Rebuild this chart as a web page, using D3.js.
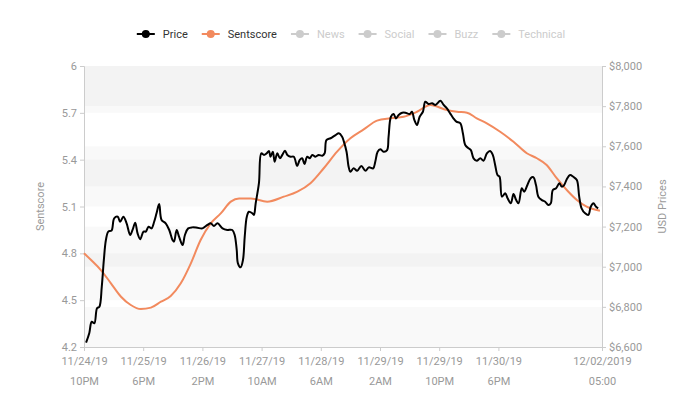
<!DOCTYPE html>
<html>
<head>
<meta charset="utf-8">
<script src="https://cdn.jsdelivr.net/npm/d3@7"></script>
<style>
    body { margin: 0; background: #fff; font-family: Roboto, "Noto Sans", sans-serif; }
    .axis path, .axis line { stroke: #ccc; }
    .axis text { fill: #999; font-size: 11px; font-family: Roboto, sans-serif; }
    .title { fill: #9a9a9a; font-size: 11px; }
</style>
</head>
<body>
<div id="chart"></div>
<script>
// hours after 11/24/19 10PM, value
var priceData = [
    [0.7, 6622], [1.8, 6670], [2.6, 6726], [3.5, 6718], [4.4, 6793], [5.2, 6801],
    [6.0, 6900], [6.7, 7033], [7.4, 7133], [8.2, 7175], [9.3, 7180], [10.2, 7241],
    [11.4, 7249], [12.2, 7224], [13.3, 7249], [14.4, 7216], [15.6, 7158], [16.4, 7183],
    [17.3, 7219], [18.1, 7166], [19.0, 7137], [20.1, 7175], [20.9, 7175], [21.8, 7199],
    [22.8, 7191], [23.7, 7224], [24.5, 7266], [25.4, 7312], [26.2, 7233], [27.6, 7216],
    [28.8, 7183], [29.9, 7133], [30.4, 7125], [31.3, 7183], [32.1, 7150], [33.3, 7108],
    [34.1, 7158], [35.2, 7191], [36.6, 7196], [38.3, 7194], [40.0, 7191], [41.7, 7208],
    [42.8, 7216], [43.9, 7203], [45.1, 7216], [46.8, 7191], [48.4, 7183], [50.1, 7183],
    [50.9, 7158], [51.6, 7083], [52.0, 7017], [52.9, 6997], [53.7, 7033], [54.3, 7150],
    [55.0, 7249], [55.7, 7274], [56.9, 7266], [57.4, 7258], [58.0, 7316], [59.1, 7416],
    [59.9, 7565], [60.8, 7557], [61.7, 7565], [62.5, 7577], [63.0, 7548], [63.8, 7573],
    [64.4, 7523], [65.3, 7565], [66.2, 7540], [67.0, 7557], [67.9, 7578], [68.7, 7557],
    [69.8, 7548], [70.9, 7548], [72.0, 7502], [72.9, 7532], [73.7, 7540], [74.5, 7512],
    [75.4, 7548], [76.3, 7540], [77.1, 7557], [78.2, 7548], [79.3, 7557], [80.5, 7553],
    [81.3, 7565], [81.9, 7631], [83.3, 7640], [85.0, 7656], [86.1, 7665], [87.2, 7648],
    [87.8, 7623], [88.7, 7573], [89.4, 7498], [90.0, 7473], [91.1, 7490], [92.3, 7478],
    [93.7, 7502], [95.1, 7478], [96.2, 7495], [97.7, 7490], [98.4, 7523], [99.2, 7573],
    [100.1, 7585], [101.2, 7573], [102.4, 7581], [102.9, 7648], [103.7, 7747], [104.6, 7761],
    [105.4, 7739], [106.3, 7756], [107.5, 7767], [108.6, 7767], [110.0, 7761], [110.8, 7772],
    [111.6, 7731], [112.5, 7706], [113.4, 7747], [114.5, 7772], [115.3, 7822], [116.4, 7811],
    [117.6, 7814], [118.7, 7806], [120.4, 7827], [121.5, 7806], [122.6, 7789], [123.7, 7764],
    [124.8, 7739], [125.8, 7723], [127.1, 7715], [128.0, 7665], [128.8, 7606], [129.9, 7590],
    [130.7, 7581], [131.6, 7540], [132.7, 7528], [133.9, 7540], [135.0, 7528], [136.1, 7565],
    [137.2, 7577], [138.1, 7557], [138.9, 7507], [139.7, 7457], [140.4, 7448], [141.2, 7349],
    [142.3, 7366], [143.1, 7341], [144.2, 7316], [145.1, 7362], [146.0, 7332], [146.8, 7316],
    [147.9, 7391], [148.7, 7374], [149.8, 7407], [150.9, 7441], [151.8, 7446], [152.7, 7407],
    [153.5, 7349], [154.7, 7332], [155.8, 7324], [156.9, 7307], [157.7, 7316], [158.4, 7382],
    [159.5, 7391], [160.6, 7416], [161.4, 7399], [162.2, 7407], [163.1, 7436], [164.2, 7457],
    [165.3, 7448], [166.5, 7432], [167.3, 7349], [168.1, 7291], [169.3, 7266], [170.4, 7258],
    [171.2, 7299], [172.1, 7316], [173.0, 7299], [173.7, 7291]
];

var sentscoreData = [
    [0, 4.80], [2.4, 4.757], [5.7, 4.693], [9.1, 4.608], [12.5, 4.522], [15.8, 4.469],
    [19.2, 4.443], [22.6, 4.452], [26.0, 4.49], [29.3, 4.527], [32.7, 4.608], [36.1, 4.736],
    [39.4, 4.885], [42.8, 4.992], [46.2, 5.056], [49.6, 5.131], [52.4, 5.152], [56.3, 5.152],
    [61.9, 5.131], [67.5, 5.163], [72.1, 5.195], [76.5, 5.249], [81.0, 5.345], [85.5, 5.451],
    [90.0, 5.537], [94.5, 5.594], [99.0, 5.65], [103.5, 5.665], [108.0, 5.675], [112.5, 5.707],
    [117.0, 5.75], [122.6, 5.718], [126.0, 5.707], [129.4, 5.701], [132.7, 5.665], [136.1, 5.633],
    [140.6, 5.579], [145.1, 5.515], [149.6, 5.441], [153.0, 5.409], [156.3, 5.366], [159.7, 5.281],
    [163.1, 5.206], [166.5, 5.142], [169.8, 5.099], [174.3, 5.073]
];

var sentTicks = [4.2, 4.5, 4.8, 5.1, 5.4, 5.7, 6];
var priceTicks = [6600, 6800, 7000, 7200, 7400, 7600, 7800, 8000];
var timeTickHours = [0, 20, 40, 60, 80, 100, 120, 140, 175];

var legendItems = [
    { name: 'Price', color: '#000', active: true },
    { name: 'Sentscore', color: '#f28a5e', active: true },
    { name: 'News', color: '#ccc', active: false },
    { name: 'Social', color: '#ccc', active: false },
    { name: 'Buzz', color: '#ccc', active: false },
    { name: 'Technical', color: '#ccc', active: false }
];

var width = 684,
    height = 397,
    margin = { left: 84, right: 82, top: 66, bottom: 50 };

var chartWidth = width - margin.left - margin.right;
var chartHeight = height - margin.top - margin.bottom;

var start = new Date(2019, 10, 24, 22, 0);
var hoursToDate = function (h) { return new Date(start.getTime() + h * 3600000); };

var xScale = d3.scaleTime()
    .domain([start, hoursToDate(175)])
    .range([0, chartWidth]);
var ySent = d3.scaleLinear().domain([4.2, 6]).range([chartHeight, 0]);
var yPrice = d3.scaleLinear().domain([6600, 8000]).range([chartHeight, 0]);

var svg = d3.select('#chart').append('svg')
    .attr('width', width)
    .attr('height', height);

var g = svg.append('g')
    .attr('transform', 'translate(' + margin.left + ',' + margin.top + ')');

// alternating bands from both axes, layered
var sentBands = d3.range(0, sentTicks.length - 1).filter(function (i) { return (sentTicks.length - 2 - i) % 2 === 0; });
g.selectAll('.band.sent')
    .data(sentBands)
    .enter().append('rect')
    .attr('class', 'band sent')
    .attr('x', 0)
    .attr('width', chartWidth)
    .attr('y', function (i) { return ySent(sentTicks[i + 1]); })
    .attr('height', function (i) { return ySent(sentTicks[i]) - ySent(sentTicks[i + 1]); })
    .attr('fill', 'rgba(0,0,0,0.022)');

var priceBands = d3.range(0, priceTicks.length - 1).filter(function (i) { return (priceTicks.length - 2 - i) % 2 === 0; });
g.selectAll('.band.price')
    .data(priceBands)
    .enter().append('rect')
    .attr('class', 'band price')
    .attr('x', 0)
    .attr('width', chartWidth)
    .attr('y', function (i) { return yPrice(priceTicks[i + 1]); })
    .attr('height', function (i) { return yPrice(priceTicks[i]) - yPrice(priceTicks[i + 1]); })
    .attr('fill', 'rgba(0,0,0,0.022)');

// axes
var xAxis = d3.axisBottom(xScale)
    .tickValues(timeTickHours.map(hoursToDate))
    .tickSize(4)
    .tickFormat('');
var xAxisG = g.append('g')
    .attr('class', 'axis x')
    .attr('transform', 'translate(0,' + chartHeight + ')')
    .call(xAxis);

var fmtDate = d3.timeFormat('%m/%d/%y'),
    fmtHour = d3.timeFormat('%-I%p'),
    fmtDateLast = d3.timeFormat('%m/%d/%Y'),
    fmtHourLast = d3.timeFormat('%H:%M');

xAxisG.selectAll('.tick').each(function (d, i) {
    var last = i === timeTickHours.length - 1;
    var t = d3.select(this).append('text')
        .attr('text-anchor', 'middle')
        .attr('fill', '#999');
    t.append('tspan').attr('x', 0).attr('y', 18).text(last ? fmtDateLast(d) : fmtDate(d));
    t.append('tspan').attr('x', 0).attr('y', 38).text(last ? fmtHourLast(d) : fmtHour(d));
});

g.append('g')
    .attr('class', 'axis y')
    .call(d3.axisLeft(ySent).tickValues(sentTicks).tickSize(4).tickPadding(3).tickFormat(d3.format('')));

g.append('g')
    .attr('class', 'axis y2')
    .attr('transform', 'translate(' + chartWidth + ',0)')
    .call(d3.axisRight(yPrice).tickValues(priceTicks).tickSize(4).tickPadding(3).tickFormat(d3.format('$,')));

svg.selectAll('.axis .domain').attr('stroke', '#ccc');

// axis titles
svg.append('text')
    .attr('class', 'title')
    .attr('transform', 'translate(44,' + (margin.top + chartHeight / 2) + ') rotate(-90)')
    .attr('text-anchor', 'middle')
    .text('Sentscore');

svg.append('text')
    .attr('class', 'title')
    .attr('transform', 'translate(666,' + (margin.top + chartHeight / 2) + ') rotate(-90)')
    .attr('text-anchor', 'middle')
    .text('USD Prices');

// lines
var priceLine = d3.line()
    .x(function (d) { return xScale(hoursToDate(d[0])); })
    .y(function (d) { return yPrice(d[1]); })
    .curve(d3.curveCatmullRom.alpha(0.5));

var sentLine = d3.line()
    .x(function (d) { return xScale(hoursToDate(d[0])); })
    .y(function (d) { return ySent(d[1]); })
    .curve(d3.curveMonotoneX);

g.append('path')
    .attr('d', sentLine(sentscoreData))
    .attr('fill', 'none')
    .attr('stroke', '#f28a5e')
    .attr('stroke-width', 2);

g.append('path')
    .attr('d', priceLine(priceData))
    .attr('fill', 'none')
    .attr('stroke', '#000')
    .attr('stroke-width', 2)
    .attr('stroke-linejoin', 'round');

// legend, laid out from text widths and centred
var legend = svg.append('g').attr('class', 'legend');
var items = legend.selectAll('g')
    .data(legendItems)
    .enter().append('g');

items.append('line')
    .attr('x1', 0).attr('x2', 18)
    .attr('y1', 0).attr('y2', 0)
    .attr('stroke', function (d) { return d.color; })
    .attr('stroke-width', 2);
items.append('circle')
    .attr('cx', 9).attr('cy', 0).attr('r', 4)
    .attr('fill', function (d) { return d.color; });
items.append('text')
    .attr('x', 26)
    .attr('y', 4)
    .attr('font-size', 11)
    .attr('fill', function (d) { return d.active ? '#333' : '#ccc'; })
    .text(function (d) { return d.name; });

var xPos = 0;
items.each(function () {
    var w = 26 + d3.select(this).select('text').node().getComputedTextLength();
    d3.select(this).attr('transform', 'translate(' + xPos + ',0)');
    xPos += w + 14;
});
var legendWidth = xPos - 14;
legend.attr('transform', 'translate(' + (351 - legendWidth / 2) + ',34)');
</script>
</body>
</html>
